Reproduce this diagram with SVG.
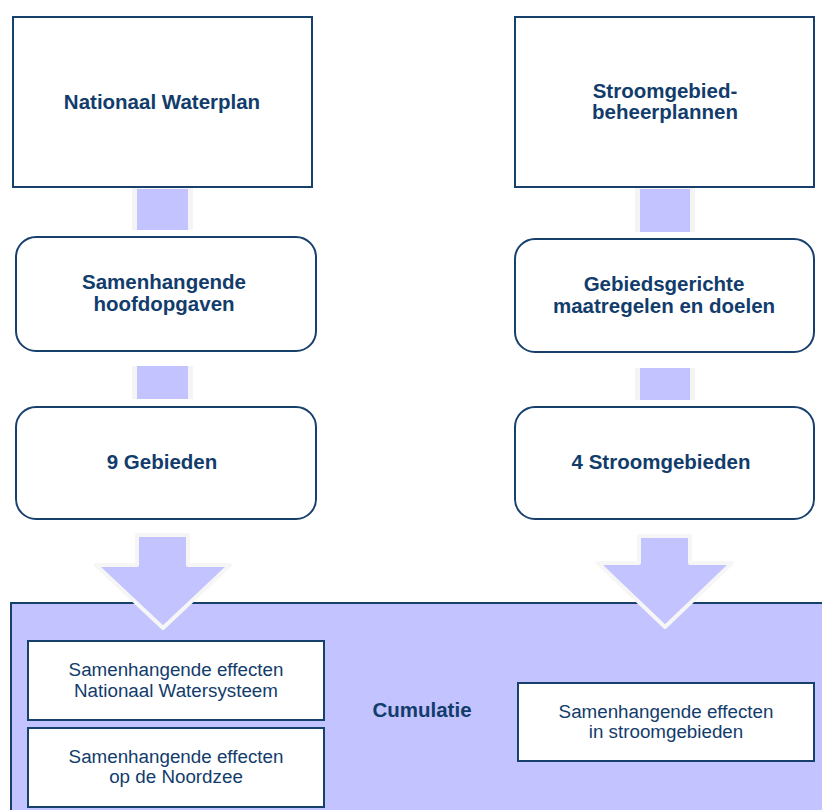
<svg xmlns="http://www.w3.org/2000/svg" width="822" height="810" viewBox="0 0 822 810">
<style>
.box{fill:#fff;stroke:#17406d;stroke-width:2}
.cum{fill:#c3c3ff;stroke:#17406d;stroke-width:2}
.b{font-family:"Liberation Sans",Arial,sans-serif;font-weight:bold;font-size:20.5px;fill:#123c6b;text-anchor:middle}
.r{font-family:"Liberation Sans",Arial,sans-serif;font-size:18.8px;fill:#123c6b;text-anchor:middle}
.sq{fill:#c3c3ff}
.sqh{fill:#f4f4f4}
.arr{fill:#c3c3ff;stroke:#f6f6f6;stroke-width:4;stroke-linejoin:round}
</style>
<rect width="822" height="810" fill="#fff"/>
<g id="n-nwp">
<rect class="box" x="13" y="17" width="299" height="170"/>
<text class="b" x="162" y="109">Nationaal Waterplan</text>
</g>
<g id="n-sbp">
<rect class="box" x="515" y="17" width="299" height="170"/>
<text class="b" x="665" y="98">Stroomgebied-</text>
<text class="b" x="665" y="119">beheerplannen</text>
</g>
<g id="n-shg">
<rect class="box" x="16" y="237" width="300" height="114" rx="20"/>
<text class="b" x="164" y="289">Samenhangende</text>
<text class="b" x="164" y="311">hoofdopgaven</text>
</g>
<g id="n-gmd">
<rect class="box" x="515" y="239" width="299" height="113" rx="20"/>
<text class="b" x="664" y="291">Gebiedsgerichte</text>
<text class="b" x="664" y="313">maatregelen en doelen</text>
</g>
<g id="n-9g">
<rect class="box" x="16" y="407" width="300" height="112" rx="20"/>
<text class="b" x="162" y="469">9 Gebieden</text>
</g>
<g id="n-4s">
<rect class="box" x="515" y="407" width="299" height="112" rx="20"/>
<text class="b" x="661" y="469">4 Stroomgebieden</text>
</g>
<g id="n-cum">
<rect class="cum" x="11" y="603" width="820" height="220"/>
<text class="b" x="422" y="717">Cumulatie</text>
</g>
<g id="n-e1">
<rect class="box" x="28" y="641" width="296" height="79"/>
<text class="r" x="176" y="676">Samenhangende effecten</text>
<text class="r" x="176" y="697">Nationaal Watersysteem</text>
</g>
<g id="n-e2">
<rect class="box" x="28" y="728" width="296" height="79"/>
<text class="r" x="176" y="763">Samenhangende effecten</text>
<text class="r" x="176" y="783">op de Noordzee</text>
</g>
<g id="n-e3">
<rect class="box" x="518" y="683" width="296" height="78"/>
<text class="r" x="666" y="718">Samenhangende effecten</text>
<text class="r" x="666" y="738">in stroomgebieden</text>
</g>
<g id="connectors">
<rect class="sqh" x="132" y="188" width="61" height="42"/>
<rect class="sq" x="137" y="189" width="51" height="41"/>
<rect class="sqh" x="635" y="188" width="60" height="44"/>
<rect class="sq" x="640" y="189" width="50" height="43"/>
<rect class="sqh" x="132" y="366" width="61" height="33"/>
<rect class="sq" x="137" y="366" width="51" height="33"/>
<rect class="sqh" x="635" y="368" width="60" height="32"/>
<rect class="sq" x="640" y="368" width="50" height="32"/>
<polygon class="arr" points="137,535 188,535 188,565 230,565 163,628 96,565 137,565"/>
<polygon class="arr" points="639,536 690,536 690,563 732,563 665,627 598,563 639,563"/>
</g>
</svg>
